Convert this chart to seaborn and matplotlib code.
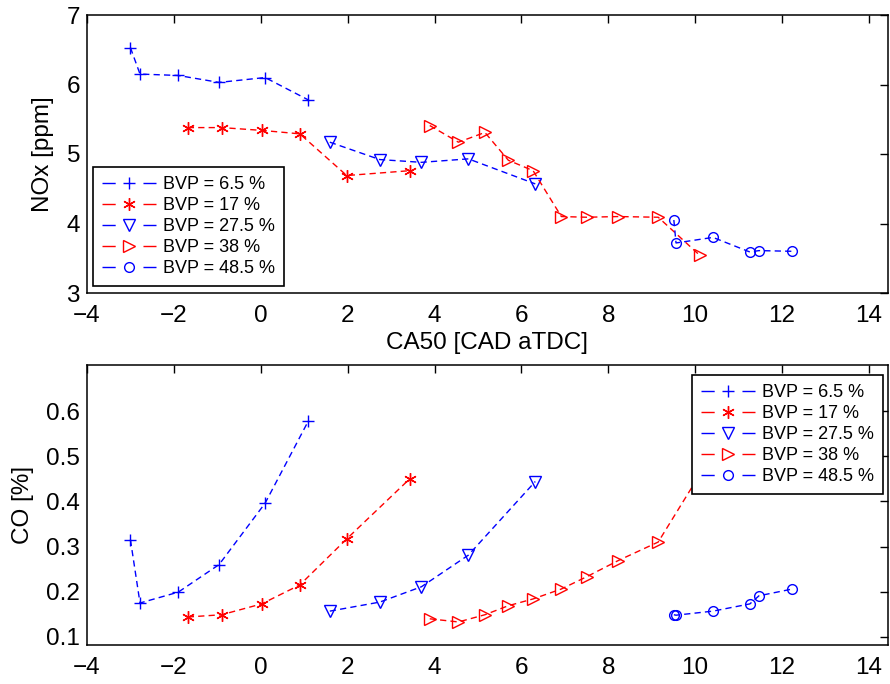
import numpy as np
import matplotlib
matplotlib.use("Agg")
import matplotlib.pyplot as plt
import seaborn as sns
from matplotlib.lines import Line2D

sns.set_theme(style="white")
plt.rcParams["font.family"] = ["Liberation Sans", "DejaVu Sans"]
plt.rcParams["axes.unicode_minus"] = True
plt.rcParams["text.color"] = "black"

# ---------------- data ----------------
labels = ["BVP = 6.5 %", "BVP = 17 %", "BVP = 27.5 %", "BVP = 38 %", "BVP = 48.5 %"]

ca50_65 = [-3.00, -2.78, -1.90, -0.96, 0.10, 1.09]
nox_65 = [6.53, 6.15, 6.13, 6.03, 6.10, 5.78]
co_65 = [0.315, 0.175, 0.199, 0.260, 0.396, 0.577]

ca50_17 = [-1.68, -0.90, 0.02, 0.90, 1.98, 3.43]
nox_17 = [5.38, 5.38, 5.34, 5.29, 4.69, 4.76]
co_17 = [0.144, 0.149, 0.173, 0.215, 0.317, 0.450]

ca50_275 = [1.59, 2.74, 3.70, 4.78, 6.32]
nox_275 = [5.17, 4.92, 4.88, 4.93, 4.57]
co_275 = [0.157, 0.177, 0.211, 0.281, 0.444]

ca50_38 = [3.89, 4.55, 5.16, 5.70, 6.27, 6.92, 7.50, 8.23, 9.15, 10.11]
nox_38 = [5.41, 5.17, 5.31, 4.91, 4.76, 4.10, 4.09, 4.10, 4.09, 3.54]
co_38 = [0.140, 0.133, 0.149, 0.169, 0.184, 0.206, 0.233, 0.269, 0.310, 0.460]

ca50_485 = [9.51, 9.56, 10.41, 11.26, 11.47, 12.24]
nox_485 = [4.05, 3.72, 3.80, 3.59, 3.61, 3.60]
co_485 = [0.149, 0.148, 0.157, 0.173, 0.191, 0.206]

ca50 = [ca50_65, ca50_17, ca50_275, ca50_38, ca50_485]
nox = [nox_65, nox_17, nox_275, nox_38, nox_485]
co = [co_65, co_17, co_275, co_38, co_485]

xticks = [-4, -2, 0, 2, 4, 6, 8, 10, 12, 14]
nox_ticks = [3, 4, 5, 6, 7]
co_ticks = [0.1, 0.2, 0.3, 0.4, 0.5, 0.6]

# ---------------- styles ----------------
colors = ["#0000FF", "#FF0000", "#0000FF", "#FF0000", "#0000FF"]
markers = ["+", (6, 2, 0), "v", ">", "o"]
msizes = [9, 9, 8, 8, 7]
dash = (0, (4.5, 3))

fig = plt.figure(figsize=(8.9, 6.84), dpi=100)
W, H = 890, 684
ax1 = fig.add_axes([87 / W, 1 - 293 / H, 801 / W, 278 / H])
ax2 = fig.add_axes([87 / W, 1 - 645 / H, 801 / W, 280 / H])

for ax, ys in ((ax1, nox), (ax2, co)):
    for xs, yv, c, m, ms in zip(ca50, ys, colors, markers, msizes):
        sns.lineplot(x=xs, y=yv, ax=ax, color=c, marker=m, markersize=ms,
                     markeredgecolor=c, markerfacecolor="none", markeredgewidth=1.0,
                     linewidth=1.0, linestyle=dash, estimator=None, sort=False,
                     legend=False)

def style_axes(ax):
    ax.set_xlim(-4, 14.44)
    ax.set_xticks(xticks)
    for s in ax.spines.values():
        s.set_color("black")
        s.set_linewidth(1.1)
        s.set_visible(True)
    ax.tick_params(axis="both", direction="in", length=6, width=1, top=True,
                   right=True, labelsize=17.5, colors="black")
    ax.tick_params(axis="x", pad=9)
    ax.tick_params(axis="y", pad=5)
    ax.grid(False)
    ax.set_facecolor("white")

style_axes(ax1)
style_axes(ax2)
ax1.set_ylim(3, 7)
ax1.set_yticks(nox_ticks)
ax2.set_ylim(0.082, 0.702)
ax2.set_yticks(co_ticks)
ax2.set_yticklabels([f"{t:.1f}" for t in co_ticks])

ax1.set_xlabel("CA50 [CAD aTDC]", fontsize=17.5, color="black", labelpad=3)
ax1.set_ylabel("NOx [ppm]", fontsize=17.5, color="black", labelpad=9)
ax2.set_ylabel("CO [%]", fontsize=17.5, color="black", labelpad=9)
ax2.set_xlabel("")

handles = [Line2D([0], [0], color=c, lw=1.0, ls=(0, (9.5, 20)), marker=m,
                  markersize=ms, markeredgecolor=c, markerfacecolor="none",
                  markeredgewidth=1.0)
           for c, m, ms in zip(colors, markers, msizes)]

leg_kw = dict(fontsize=13, handlelength=3.0, handletextpad=0.4, borderpad=0.5,
              labelspacing=0.22, fancybox=False, framealpha=1, facecolor="white",
              edgecolor="black", borderaxespad=0, numpoints=1, labelcolor="black")
l1 = ax1.legend(handles, labels, loc="lower left",
                bbox_to_anchor=(6 / 801, 7 / 278), **leg_kw)
l2 = ax2.legend(handles, labels, loc="upper right",
                bbox_to_anchor=(796 / 801, 270 / 280), **leg_kw)
for l in (l1, l2):
    l.get_frame().set_linewidth(1.2)
    l.set_zorder(10)

fig.savefig("out.png", dpi=100, facecolor="white")
